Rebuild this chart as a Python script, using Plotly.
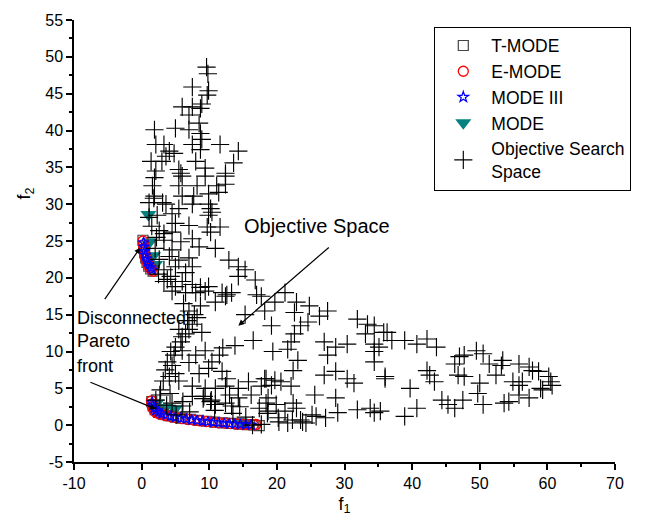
import plotly.graph_objects as go

# ---- Objective search space (f1, f2) ----
space_x = [9.6, 9.8, 7.5, 9.9, 9.7, 8.9, 6.0, 7.5, 8.7, 7.0, 8.5, 1.9, 5.0, 7.0, 8.7, 8.9, 2.1, 3.3, 7.5, 11.6,
           14.3, 4.1, 8.7, 3.6, 4.8, 1.4, 3.0, 8.0, 13.6, 2.1, 5.5, 5.8, 9.4, 12.4,
           1.9, 6.0, 9.4, 12.4, 1.6, 5.5, 8.2, 11.1, 12.4, 1.9, 6.0, 7.7, 9.9, 11.4, 1.1, 3.1, 3.6, 9.9, 7.5, 5.5,
           10.2, 1.1, 4.5, 9.9, 10.4, 5.0, 7.0, 9.7, 11.6, 2.6, 3.3, 4.5, 10.2, 7.5, 3.3, 5.8, 10.9, 8.5, 4.5, 12.9,
           14.3, 15.3, 16.8, 14.3, 4.1, 5.5, 7.0, 7.5, 5.0, 3.3, 6.5, 4.3, 3.3, 6.0, 5.0, 7.5, 8.7, 9.9, 11.9, 12.6, 6.5,
           4.5, 8.0, 9.4, 12.4, 13.3, 17.0, 15.3, 10.9, 8.7, 8.2, 7.5, 7.0, 6.5, 8.9, 5.8, 5.0, 4.3, 6.0, 9.4, 3.8,
           4.5, 10.4, 5.0, 4.1, 13.8, 16.5, 9.9, 11.9, 12.6, 10.9, 9.4, 7.5, 2.8, 2.1, 7.5, 9.2, 10.2, 12.4, 14.3,
           15.8, 14.3, 16.2, 18.2, 18.4, 4.5, 6.0, 13.3, 10.9, 12.4,
           21.2, 17.7, 19.7, 22.9, 24.8, 18.2, 22.6, 26.3, 27.5, 24.6, 23.5, 19.2, 22.6, 31.9, 33.4, 34.4, 35.8, 33.1,
           22.1, 27.0, 30.4, 21.6, 19.4, 28.7, 34.4, 34.4, 27.5, 23.1, 34.4, 22.4, 27.0, 28.7, 30.4, 31.4, 18.4, 19.7,
           20.6, 17.7, 19.2, 22.1, 36.0, 25.6, 28.7, 18.7, 19.9, 22.4, 22.9, 21.2, 18.7, 20.2, 21.6, 23.5, 25.8, 27.2,
           29.0, 31.9, 33.8, 34.4, 24.3, 17.7,
           36.3, 37.0, 38.9, 40.7, 42.2, 43.6, 35.1, 36.0, 39.7, 42.2, 42.6, 43.3, 40.7, 38.9, 35.3, 44.4, 45.3, 46.3,
           47.5, 46.3, 47.0, 47.7, 46.8, 47.7, 49.5, 50.5, 51.4, 53.4, 53.2, 52.4, 50.0, 49.7, 50.5, 53.6, 54.3, 54.9,
           55.8, 56.3, 55.8, 57.3, 55.8, 57.3, 57.8, 58.7, 59.0, 60.2, 60.5, 60.7, 59.3,
           2.7, 4.2, 6.1, 9.1, 10.3, 13.0, 14.5, 17.4, 18.6, 20.3, 22.3, 23.8, 16.4, 15.4, 5.1, 3.7, 7.1, 10.8, 13.5, 25.2,
           6.2, 7.0, 6.8, 7.8, 5.5, 6.0, 4.8, 3.5, 3.2, 5.5, 8.5, 7.0, 8.0, 11.5, 12.0,
           1.5, 2.2, 2.0, 2.6, 2.5, 3.8, 2.3, 1.8]
space_y = [48.6, 47.7, 45.9, 45.4, 44.8, 43.6, 43.2, 43.2, 43.0, 42.1, 41.0, 40.1, 40.3, 40.1, 39.6, 38.8, 38.1, 38.1, 38.1, 38.1,
           37.2, 37.2, 37.4, 36.5, 36.9, 35.8, 35.8, 35.8, 35.6, 34.5, 34.7, 34.2, 34.9, 34.2,
           33.6, 33.8, 33.8, 33.8, 32.5, 32.5, 32.5, 32.5, 32.7, 31.1, 31.1, 31.1, 31.4, 31.6, 30.2, 30.2, 30.0, 30.0, 30.0, 29.4,
           29.4, 28.2, 28.7, 28.5, 28.9, 27.4, 27.1, 26.9, 26.9, 26.4, 26.0, 26.2, 26.2, 25.3, 25.1, 24.9, 24.0, 24.2, 23.8, 22.4,
           21.5, 21.1, 19.7, 20.2, 22.9, 22.4, 22.7, 21.5, 21.5, 21.1, 20.7, 20.2, 19.5, 19.5, 18.8, 19.1, 18.7, 18.8, 18.0, 17.7, 18.0,
           18.2, 18.0, 18.2, 17.5, 18.0, 17.7, 15.0, 16.7, 16.2, 14.6, 13.7, 13.0, 12.4, 12.6, 11.3, 10.6, 10.0, 10.1, 10.1, 8.6,
           8.1, 8.6, 7.0, 6.6, 10.8, 11.5, 7.7, 7.3, 6.3, 5.0, 5.0, 5.3, 4.8, 3.4, 3.9, 3.9, 3.2, 5.3, 5.0,
           5.9, 3.7, 4.1, 6.3, 3.0, 3.0, 2.6, 2.6, 2.8, 3.0,
           18.0, 17.5, 16.7, 16.7, 16.2, 15.5, 15.3, 14.8, 15.5, 14.0, 13.5, 13.5, 12.4, 14.4, 13.7, 13.5, 12.6, 12.4,
           11.3, 11.3, 11.0, 10.3, 10.0, 10.6, 11.0, 10.0, 9.5, 8.8, 8.6, 7.4, 6.8, 7.3, 6.3, 5.7, 6.3, 6.1,
           5.9, 5.3, 5.4, 5.3, 6.3, 4.1, 3.7, 3.7, 2.8, 3.0, 2.3, 1.9, 1.9, 1.0, 0.3, 0.7, 1.2, 1.0,
           1.7, 2.1, 2.3, 1.7, 0.3, 0.1,
           12.6, 11.5, 11.5, 11.0, 11.7, 10.6, 10.6, 6.6, 5.0, 7.4, 6.8, 5.9, 2.3, 1.2, 1.9, 3.4, 2.8, 2.3,
           3.4, 8.3, 9.3, 9.5, 6.8, 6.6, 10.1, 9.7, 8.3, 8.8, 8.1, 6.8, 5.7, 4.3, 2.8, 3.0, 3.2, 5.9,
           5.4, 5.9, 4.1, 3.7, 8.3, 7.9, 7.4, 7.3, 5.0, 6.6, 5.9, 5.4, 4.8,
           4.1, 4.3, 3.2, 3.6, 3.4, 4.1, 2.5, 2.3, 1.6, 0.45, 0.7, 0.45, 0.0, 1.1, 1.4, 2.7, 1.8, 2.0, 1.6, 1.4,
           16.5, 15.5, 14.2, 15.0, 13.0, 12.0, 9.5, 7.5, 6.0, 6.0, 7.0, 8.5, 9.5, 9.5, 10.5,
           27.0, 25.5, 24.0, 22.5, 20.5, 19.8, 28.5, 30.8]

# ---- Pareto fronts ----
tmode_x = [1.5, 1.7, 2.0, 2.5, 3.2, 4.0, 5.0, 6.0, 7.2, 8.4, 9.6, 10.8, 12.0, 13.2, 14.4, 15.6, 16.6, 17.4,
           0.2, 0.3, 0.45, 0.6, 0.8, 1.05, 1.35, 1.7]
tmode_y = [3.2, 2.6, 2.1, 1.75, 1.5, 1.3, 1.1, 0.95, 0.8, 0.66, 0.53, 0.42, 0.32, 0.23, 0.15, 0.08, 0.02, -0.05,
           25.1, 24.2, 23.4, 22.7, 22.1, 21.6, 21.2, 20.9]

emode_x = [1.45, 1.5, 1.6, 1.75, 1.95, 2.2, 2.6, 3.1, 3.7, 4.4, 5.2, 6.0, 6.9, 7.8, 8.7, 9.6, 10.5, 11.4, 12.3,
           13.2, 14.1, 15.0, 15.8, 16.5, 16.9,
           0.2, 0.25, 0.3, 0.4, 0.5, 0.65, 0.8, 1.0, 1.2, 1.45, 1.7]
emode_y = [3.3, 2.9, 2.5, 2.15, 1.9, 1.7, 1.55, 1.4, 1.27, 1.14, 1.0, 0.88, 0.77, 0.67, 0.58, 0.5, 0.42, 0.35, 0.28,
           0.22, 0.16, 0.1, 0.06, 0.04, 0.1,
           25.0, 24.5, 24.0, 23.5, 23.0, 22.5, 22.1, 21.7, 21.4, 21.1, 20.9]

mode3_x = [1.55, 1.65, 1.85, 2.1, 2.5, 3.0, 3.6, 4.3, 5.0, 5.8, 6.6, 7.4, 8.2, 9.0, 9.8, 10.6, 11.4, 12.2, 13.0,
           13.8, 14.6, 15.4, 16.2,
           0.3, 0.35, 0.45, 0.55, 0.7, 0.85, 1.05, 1.3, 1.55]
mode3_y = [3.1, 2.7, 2.3, 2.0, 1.75, 1.55, 1.38, 1.22, 1.08, 0.95, 0.83, 0.73, 0.63, 0.55, 0.47, 0.4, 0.33, 0.27, 0.21,
           0.16, 0.11, 0.07, 0.04,
           24.8, 24.2, 23.6, 23.1, 22.6, 22.2, 21.8, 21.4, 21.1]

mode_x = [1.0, 1.2, 1.7, 2.0, 2.2, 3.5, 4.9, 14.5, 15.2]
mode_y = [28.6, 24.9, 23.0, 21.8, 3.0, 2.4, 2.2, 0.45, 0.3]

# ---- axis ticks ----
x_ticks = [-10, 0, 10, 20, 30, 40, 50, 60, 70]
x_ticklabels = ["-10", "0", "10", "20", "30", "40", "50", "60", "70"]
y_ticks = [-5, 0, 5, 10, 15, 20, 25, 30, 35, 40, 45, 50, 55]
y_ticklabels = ["-5", "0", "5", "10", "15", "20", "25", "30", "35", "40", "45", "50", "55"]

FONT = "Liberation Sans, Arial, sans-serif"

fig = go.Figure()
fig.add_trace(go.Scatter(x=mode_x, y=mode_y, mode="markers", name="MODE", legendrank=4,
                         marker=dict(symbol="triangle-down", size=14, color="#078080")))
fig.add_trace(go.Scatter(x=tmode_x, y=tmode_y, mode="markers", name="T-MODE", legendrank=1,
                         marker=dict(symbol="square-open", size=10, color="#444444", line=dict(width=1.2))))
fig.add_trace(go.Scatter(x=emode_x, y=emode_y, mode="markers", name="E-MODE", legendrank=2,
                         marker=dict(symbol="circle-open", size=10, color="#FF0000", line=dict(width=1.3))))
fig.add_trace(go.Scatter(x=mode3_x, y=mode3_y, mode="markers", name="MODE III", legendrank=3,
                         marker=dict(symbol="star-open", size=8, color="#0000FF", line=dict(width=1.2))))
fig.add_trace(go.Scatter(x=space_x, y=space_y, mode="markers", name="Objective Search<br>Space", legendrank=5,
                         marker=dict(symbol="cross-thin", size=13, color="black",
                                     line=dict(width=1.15, color="black"))))

axis_common = dict(showline=True, linecolor="black", linewidth=1.5, ticks="outside", ticklen=6,
                   tickwidth=1.5, tickcolor="black", showgrid=False, zeroline=False,
                   tickfont=dict(family=FONT, size=16, color="black"))
fig.update_xaxes(range=[-10, 70], tickvals=x_ticks, ticktext=x_ticklabels,
                 minor=dict(dtick=5, tick0=0, ticklen=3, tickwidth=1.5, tickcolor="black", ticks="outside"),
                 title=dict(text="f<sub>1</sub>", font=dict(family=FONT, size=18, color="black"), standoff=6),
                 **axis_common)
fig.update_yaxes(range=[-5, 55], tickvals=y_ticks, ticktext=y_ticklabels,
                 minor=dict(dtick=2.5, tick0=0, ticklen=3, tickwidth=1.5, tickcolor="black", ticks="outside"),
                 **axis_common)

ann = []
# y-axis title
ann.append(dict(x=-0.09, y=31.5, xref="paper", yref="y", text="f<sub>2</sub>", showarrow=False,
                xanchor="center", yanchor="middle", textangle=-90,
                font=dict(family=FONT, size=18, color="black")))
ann.append(dict(x=14.85, y=27.0, xref="x", yref="y", text="Objective Space", showarrow=False,
                xanchor="left", yanchor="middle", font=dict(family=FONT, size=20, color="black")))
ann.append(dict(x=14.3, y=13.5, ax=27.9, ay=24.3, xref="x", yref="y", axref="x", ayref="y",
                text="", showarrow=True, arrowhead=2, arrowsize=1, arrowwidth=1.2, arrowcolor="black"))
for t, yy in [("Disconnected", 14.6), ("Pareto", 11.4), ("front", 8.1)]:
    ann.append(dict(x=-9.8, y=yy, xref="x", yref="y", text=t, showarrow=False, xanchor="left",
                    yanchor="middle", font=dict(family=FONT, size=18, color="black")))
ann.append(dict(x=-0.2, y=24.1, ax=-5.6, ay=16.9, xref="x", yref="y", axref="x", ayref="y",
                text="", showarrow=True, arrowhead=2, arrowsize=1, arrowwidth=1.2, arrowcolor="black"))
ann.append(dict(x=2.1, y=2.2, ax=-7.8, ay=5.9, xref="x", yref="y", axref="x", ayref="y",
                text="", showarrow=True, arrowhead=2, arrowsize=1, arrowwidth=1.2, arrowcolor="black"))

fig.update_layout(
    width=650, height=525,
    margin=dict(l=73.5, r=35, t=14, b=63),
    plot_bgcolor="white", paper_bgcolor="white",
    font=dict(family=FONT, size=16, color="black"),
    showlegend=True,
    legend=dict(x=0.666, y=0.985, xanchor="left", yanchor="top", bgcolor="white",
                bordercolor="black", borderwidth=1, font=dict(family=FONT, size=17.5, color="black"),
                tracegroupgap=0, itemsizing="trace", itemwidth=46),
    annotations=ann,
)

fig.write_html("out.html")
